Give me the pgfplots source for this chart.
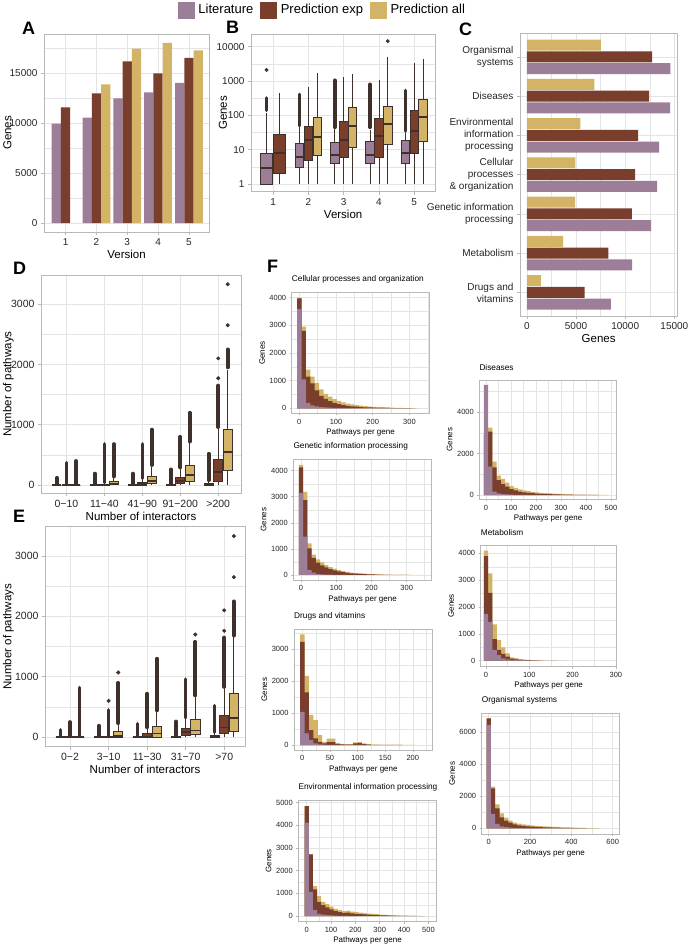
\documentclass[border=0pt]{standalone}
\usepackage{fontspec}
\setmainfont{Liberation Sans}
\usepackage{pgfplots}
\pgfplotsset{compat=1.18}

\definecolor{cLit}{HTML}{9C7E99}
\definecolor{cExp}{HTML}{7A3E2D}
\definecolor{cAll}{HTML}{D3B466}
\definecolor{dk}{HTML}{3E302B}
\definecolor{grd}{HTML}{E4E4E4}
\definecolor{bord}{HTML}{B8B8B8}

\pgfplotsset{
  gg/.style={
    scale only axis, anchor=north west,
    axis line style={draw=bord, line width=0.6pt},
    grid=both,
    major grid style={draw=grd, line width=0.6pt},
    minor grid style={draw=grd, line width=0.35pt},
    tick style={draw=bord, line width=0.6pt},
    tick align=outside, major tick length=3pt, minor tick length=0pt,
    tick pos=left, scaled ticks=false,
    tick label style={font=\fontsize{10}{12}\selectfont, text=black!85},
    label style={font=\fontsize{11.5}{13}\selectfont},
    xlabel style={inner sep=1pt}, ylabel style={inner sep=1pt},
    /pgf/number format/assume math mode=true,
    /pgf/number format/1000 sep={},
  },
  ylab/.style={ylabel style={at={(axis description cs:#1,0.5)}, anchor=center, font=\fontsize{11.5}{13}\selectfont}},
  fh/.style={gg,
    tick label style={font=\fontsize{7.5}{9}\selectfont},
    label style={font=\fontsize{8}{9}\selectfont},
    major tick length=2pt,
    title style={at={(0,1)}, anchor=south west, font=\fontsize{8.3}{10}\selectfont, inner sep=0pt, yshift=3pt},
    xlabel={Pathways per gene}, ylabel={Genes},
  },
}

% box: centre, half width, fill, lower whisker, q1, median, q3, upper whisker
\newcommand\bx[8]{%
  \pgfmathsetmacro\xa{#1-#2}\pgfmathsetmacro\xb{#1+#2}%
  \edef\tmp{%
    \noexpand\addplot[draw=dk, line width=0.8pt] coordinates {(#1,#4)(#1,#8)};
    \noexpand\addplot[draw=dk, fill=#3, line width=0.8pt] coordinates {(\xa,#5)(\xb,#5)(\xb,#7)(\xa,#7)} -- cycle;
    \noexpand\addplot[draw=dk, line width=1.8pt] coordinates {(\xa,#6)(\xb,#6)};
  }\tmp}
% dense run of outliers
\newcommand\oc[3]{\addplot[draw=dk, line width=3.6pt, line cap=round] coordinates {(#1,#2)(#1,#3)};}
% single outlier
\newcommand\od[2]{\addplot[only marks, mark=*, mark size=1.8pt, dk] coordinates {(#1,#2)};}

\begin{document}
\begin{tikzpicture}
\fill[white] (0pt,0pt) rectangle (692pt,-944pt);
\useasboundingbox (0pt,0pt) rectangle (692pt,-944pt);

% ---------------- A
\begin{axis}[gg, at={(44pt,-34pt)}, width=165pt, height=198pt,
  xmin=0.3, xmax=5.65, ymin=-900, ymax=18900,
  xtick={1,2,3,4,5}, ytick={0,5000,10000,15000}, minor ytick={2500,7500,12500,17500},
  xlabel={Version}, ylabel={Genes}, ylab=-0.222,
  ybar, bar width=0.3,
  legend columns=3,
  legend style={at={(1.682,1.121)}, anchor=center, draw=none, fill=none,
    font=\fontsize{13}{15}\selectfont, nodes={inner sep=0pt},
    /tikz/every odd column/.append style={column sep=4pt},
    /tikz/every even column/.append style={column sep=7pt}},
]
\addplot[fill=cLit, draw=none, bar shift=-0.3, forget plot] coordinates {(1,9930) (2,10530) (3,12470) (4,13050) (5,14000)};
\addplot[fill=cExp, draw=none, bar shift=0, forget plot] coordinates {(1,11550) (2,12950) (3,16150) (4,14950) (5,16500)};
\addplot[fill=cAll, draw=none, bar shift=0.3, forget plot] coordinates {(2,13870) (3,17430) (4,18000) (5,17270)};
\addlegendimage{legend image code/.code={\fill[cLit] (0pt,-8pt) rectangle (16pt,8pt);}}
\addlegendentry{Literature}
\addlegendimage{legend image code/.code={\fill[cExp] (0pt,-8pt) rectangle (16pt,8pt);}}
\addlegendentry{Prediction exp}
\addlegendimage{legend image code/.code={\fill[cAll] (0pt,-8pt) rectangle (16pt,8pt);}}
\addlegendentry{Prediction all}
\end{axis}

% ---------------- B
\begin{axis}[gg, at={(251pt,-34.3pt)}, width=184.3pt, height=157.4pt,
  ymode=log, xmin=0.37, xmax=5.6, ymin=0.6, ymax=22900,
  xtick={1,2,3,4,5}, ytick={1,10,100,1000,10000}, yticklabels={1,10,100,1000,10000},
  minor ytick={3.1623,31.623,316.23,3162.3},
  xlabel={Version}, ylabel={Genes}, ylab=-0.152,
]
\bx{0.8125}{0.17}{cLit}{1}{1}{3}{7.8}{120} \oc{0.8125}{140}{320} \od{0.8125}{2100}
\bx{1.1875}{0.17}{cExp}{1}{2}{8}{28}{460}
\bx{1.75}{0.12}{cLit}{1}{3}{6}{15}{45} \oc{1.75}{50}{410}
\bx{2}{0.12}{cExp}{1}{5}{19}{47}{680}
\bx{2.25}{0.12}{cAll}{1}{7}{24}{90}{1750}
\bx{2.75}{0.12}{cLit}{1}{4}{7}{16}{40} \oc{2.75}{45}{1050}
\bx{3}{0.12}{cExp}{1}{6}{19}{65}{1300}
\bx{3.25}{0.12}{cAll}{1}{12}{49}{165}{1550}
\bx{3.75}{0.12}{cLit}{1}{4}{7}{17}{38} \oc{3.75}{45}{800}
\bx{4}{0.12}{cExp}{1}{6}{25}{82}{1100}
\bx{4.25}{0.12}{cAll}{1}{14}{57}{185}{5100} \od{4.25}{14500}
\bx{4.75}{0.12}{cLit}{1}{4}{8}{19}{30} \oc{4.75}{35}{530}
\bx{5}{0.12}{cExp}{1}{8}{36}{140}{3300}
\bx{5.25}{0.12}{cAll}{1}{18}{88}{290}{4400}
\end{axis}

% ---------------- C
\begin{axis}[gg, at={(520pt,-33.3pt)}, width=157.3pt, height=282.7pt,
  xmin=-700, xmax=15300, ymin=0.4, ymax=7.6,
  xtick={0,5000,10000,15000}, minor xtick={2500,7500,12500},
  ytick={1,2,3,4,5,6,7},
  yticklabels={{Drugs and\\vitamins}, Metabolism, {Genetic information\\processing},
    {Cellular\\processes\\\& organization}, {Environmental\\information\\processing},
    Diseases, {Organismal\\systems}},
  yticklabel style={align=right},
  xlabel={Genes},
  xbar, bar width=0.28,
]
\addplot[fill=cLit, draw=none, bar shift=-0.3] coordinates {(8550,1) (10710,2) (12640,3) (13240,4) (13450,5) (14560,6) (14600,7)};
\addplot[fill=cExp, draw=none, bar shift=0] coordinates {(5880,1) (8280,2) (10680,3) (11010,4) (11320,5) (12430,6) (12740,7)};
\addplot[fill=cAll, draw=none, bar shift=0.3] coordinates {(1420,1) (3680,2) (4900,3) (4930,4) (5440,5) (6860,6) (7530,7)};
\end{axis}

% ---------------- D
\begin{axis}[gg, at={(41pt,-275pt)}, width=200pt, height=218.3pt,
  xmin=0.33, xmax=5.6, ymin=-138, ymax=3483,
  xtick={1,2,3,4,5}, xticklabels={0−10, 11−40, 41−90, 91−200, >200},
  ytick={0,1000,2000,3000}, minor ytick={500,1500,2500},
  tick label style={font=\fontsize{10.5}{12}\selectfont},
  xlabel={Number of interactors}, ylabel={Number of pathways}, ylab=-0.163,
]
\bx{0.75}{0.12}{cLit}{0}{0}{0}{0}{0} \oc{0.75}{15}{120}
\bx{1}{0.12}{cExp}{0}{0}{0}{0}{0} \oc{1}{15}{370}
\bx{1.25}{0.12}{cAll}{0}{0}{0}{0}{0} \oc{1.25}{15}{400}
\bx{1.75}{0.12}{cLit}{0}{0}{0}{0}{0} \oc{1.75}{15}{190}
\bx{2}{0.12}{cExp}{0}{0}{3}{15}{35} \oc{2}{40}{680}
\bx{2.25}{0.12}{cAll}{0}{5}{20}{55}{130} \oc{2.25}{140}{680}
\bx{2.75}{0.12}{cLit}{0}{0}{0}{0}{0} \oc{2.75}{15}{190}
\bx{3}{0.12}{cExp}{0}{0}{10}{40}{100} \oc{3}{110}{680}
\bx{3.25}{0.12}{cAll}{0}{20}{60}{140}{320} \oc{3.25}{330}{920}
\bx{3.75}{0.12}{cLit}{0}{0}{0}{5}{12} \oc{3.75}{15}{260}
\bx{4}{0.12}{cExp}{0}{30}{70}{130}{280} \oc{4}{290}{800}
\bx{4.25}{0.12}{cAll}{0}{60}{170}{320}{700} \oc{4.25}{720}{1200}
\bx{4.75}{0.12}{cLit}{0}{0}{5}{30}{70} \oc{4.75}{80}{520}
\bx{5}{0.12}{cExp}{0}{60}{220}{430}{950} \oc{5}{960}{1650} \od{5}{1770} \od{5}{2100}
\bx{5.25}{0.12}{cAll}{0}{250}{550}{920}{1900} \oc{5.25}{1950}{2250} \od{5.25}{2650} \od{5.25}{3330}
\end{axis}

% ---------------- E
\begin{axis}[gg, at={(45pt,-526.7pt)}, width=200pt, height=220pt,
  xmin=0.35, xmax=5.54, ymin=-160, ymax=3486,
  xtick={1,2,3,4,5}, xticklabels={0−2, 3−10, 11−30, 31−70, >70},
  ytick={0,1000,2000,3000}, minor ytick={500,1500,2500},
  tick label style={font=\fontsize{10.5}{12}\selectfont},
  xlabel={Number of interactors}, ylabel={Number of pathways}, ylab=-0.183,
]
\bx{0.75}{0.12}{cLit}{0}{0}{0}{0}{0} \oc{0.75}{15}{120}
\bx{1}{0.12}{cExp}{0}{0}{0}{0}{0} \oc{1}{15}{250}
\bx{1.25}{0.12}{cAll}{0}{0}{0}{0}{0} \oc{1.25}{15}{820}
\bx{1.75}{0.12}{cLit}{0}{0}{0}{0}{0} \oc{1.75}{15}{190}
\bx{2}{0.12}{cExp}{0}{0}{0}{0}{0} \oc{2}{15}{450} \od{2}{600}
\bx{2.25}{0.12}{cAll}{0}{0}{20}{90}{220} \oc{2.25}{230}{900} \od{2.25}{1070}
\bx{2.75}{0.12}{cLit}{0}{0}{0}{0}{0} \oc{2.75}{15}{220}
\bx{3}{0.12}{cExp}{0}{0}{10}{60}{150} \oc{3}{160}{720}
\bx{3.25}{0.12}{cAll}{0}{0}{60}{180}{430} \oc{3.25}{440}{1300}
\bx{3.75}{0.12}{cLit}{0}{0}{0}{0}{0} \oc{3.75}{15}{260}
\bx{4}{0.12}{cExp}{0}{30}{80}{140}{300} \oc{4}{320}{960}
\bx{4.25}{0.12}{cAll}{0}{40}{110}{290}{680} \oc{4.25}{690}{1580} \od{4.25}{1700}
\bx{4.75}{0.12}{cLit}{0}{0}{5}{30}{70} \oc{4.75}{80}{520}
\bx{5}{0.12}{cExp}{0}{60}{160}{360}{820} \oc{5}{830}{1650} \od{5}{1760} \od{5}{2100}
\bx{5.25}{0.12}{cAll}{0}{100}{320}{730}{1650} \oc{5.25}{1680}{2250} \od{5.25}{2650} \od{5.25}{3330}
\end{axis}

% ---------------- F: Cellular processes and organization
\begin{axis}[fh, at={(291.7pt,-292.7pt)}, width=137.6pt, height=120.6pt,
  title={Cellular processes and organization},
  xmin=-20.7, xmax=354, ymin=-181, ymax=4181,
  xtick={0,100,200,300}, minor xtick={50,150,250,350},
  ytick={0,1000,2000,3000,4000}, minor ytick={500,1500,2500,3500},
]
\addplot[fill=cAll, draw=none, const plot] coordinates {(-6,4000)(6,2950)(18,1400)(30,1150)(42,920)(54,680)(66,520)(78,420)(90,330)(102,260)(114,210)(126,170)(138,140)(150,115)(162,95)(174,80)(186,65)(198,55)(210,45)(222,38)(234,30)(246,24)(258,18)(270,13)(282,9)(294,6)(306,3)(318,1)(330,0)} \closedcycle;
\addplot[fill=cExp, draw=none, const plot] coordinates {(-6,3980)(6,2800)(18,1150)(30,900)(42,650)(54,450)(66,340)(78,260)(90,200)(102,150)(114,118)(126,92)(138,72)(150,58)(162,46)(174,37)(186,30)(198,24)(210,19)(222,15)(234,11)(246,8)(258,6)(270,4)(282,3)(294,2)(306,1)(318,0)} \closedcycle;
\addplot[fill=cLit, draw=none, const plot] coordinates {(-6,3600)(6,1050)(18,200)(30,110)(42,70)(54,45)(66,30)(78,20)(90,13)(102,9)(114,6)(126,4)(138,3)(150,2)(162,1)(174,0)} \closedcycle;
\end{axis}

% ---------------- F: Genetic information processing
\begin{axis}[fh, at={(293.3pt,-459.3pt)}, width=138.4pt, height=120.7pt,
  title={Genetic information processing},
  xmin=-21.9, xmax=371, ymin=-192, ymax=4437,
  xtick={0,100,200,300}, minor xtick={50,150,250,350},
  ytick={0,1000,2000,3000,4000}, minor ytick={500,1500,2500,3500},
]
\addplot[fill=cAll, draw=none, const plot] coordinates {(-6,4220)(6,3190)(18,1210)(30,780)(42,600)(54,480)(66,380)(78,300)(90,240)(102,190)(114,150)(126,120)(138,95)(150,75)(162,60)(174,48)(186,38)(198,30)(210,24)(222,18)(234,14)(246,10)(258,7)(270,5)(282,3)(294,2)(306,1)(318,0)} \closedcycle;
\addplot[fill=cExp, draw=none, const plot] coordinates {(-6,4130)(6,2870)(18,1020)(30,660)(42,470)(54,370)(66,290)(78,230)(90,180)(102,140)(114,110)(126,85)(138,65)(150,50)(162,40)(174,32)(186,25)(198,20)(210,15)(222,11)(234,8)(246,6)(258,4)(270,3)(282,2)(294,1)(306,0)} \closedcycle;
\addplot[fill=cLit, draw=none, const plot] coordinates {(-6,3150)(6,1470)(18,190)(30,90)(42,45)(54,25)(66,15)(78,10)(90,6)(102,4)(114,2)(126,1)(138,0)} \closedcycle;
\end{axis}

% ---------------- F: Drugs and vitamins
\begin{axis}[fh, at={(294pt,-629.3pt)}, width=138.7pt, height=120.7pt,
  title={Drugs and vitamins},
  xmin=-15, xmax=236, ymin=-156, ymax=3625,
  xtick={0,50,100,150,200}, minor xtick={25,75,125,175,225},
  ytick={0,1000,2000,3000}, minor ytick={500,1500,2500,3500},
]
\addplot[fill=cAll, draw=none, const plot] coordinates {(-4,3470)(4,2170)(12,940)(20,780)(28,310)(36,100)(44,200)(52,200)(60,70)(68,40)(76,30)(84,30)(92,80)(100,90)(108,50)(116,25)(124,15)(132,10)(140,8)(148,6)(156,5)(164,4)(172,3)(180,2)(188,2)(196,1)(204,0)} \closedcycle;
\addplot[fill=cExp, draw=none, const plot] coordinates {(-4,3230)(4,1650)(12,470)(20,210)(28,100)(36,50)(44,90)(52,90)(60,30)(68,20)(76,15)(84,15)(92,55)(100,60)(108,30)(116,15)(124,8)(132,5)(140,4)(148,3)(156,2)(164,1)(172,1)(180,0)} \closedcycle;
\addplot[fill=cLit, draw=none, const plot] coordinates {(-4,1040)(4,365)(12,156)(20,50)(28,20)(36,10)(44,8)(52,8)(60,4)(68,3)(76,2)(84,2)(92,5)(100,5)(108,2)(116,1)(124,0)} \closedcycle;
\end{axis}

% ---------------- F: Environmental information processing
\begin{axis}[fh, at={(298.3pt,-800pt)}, width=138.4pt, height=121.7pt,
  title={Environmental information processing},
  xmin=-34.6, xmax=534, ymin=-250, ymax=5117,
  xtick={0,100,200,300,400,500}, minor xtick={50,150,250,350,450},
  ytick={0,1000,2000,3000,4000,5000}, minor ytick={500,1500,2500,3500,4500},
]
\addplot[fill=cAll, draw=none, const plot] coordinates {(-8.5,4850)(8.5,2720)(25.5,1320)(42.5,880)(59.5,630)(76.5,530)(93.5,410)(110.5,320)(127.5,265)(144.5,215)(161.5,235)(178.5,200)(195.5,170)(212.5,150)(229.5,130)(246.5,110)(263.5,95)(280.5,80)(297.5,66)(314.5,54)(331.5,44)(348.5,35)(365.5,28)(382.5,21)(399.5,15)(416.5,10)(433.5,7)(450.5,4)(467.5,2)(484.5,1)(501.5,0)} \closedcycle;
\addplot[fill=cExp, draw=none, const plot] coordinates {(-8.5,4850)(8.5,2720)(25.5,1180)(42.5,630)(59.5,485)(76.5,380)(93.5,290)(110.5,220)(127.5,175)(144.5,140)(161.5,150)(178.5,120)(195.5,100)(212.5,85)(229.5,70)(246.5,58)(263.5,48)(280.5,39)(297.5,31)(314.5,25)(331.5,19)(348.5,15)(365.5,11)(382.5,8)(399.5,6)(416.5,4)(433.5,3)(450.5,2)(467.5,1)(484.5,0)} \closedcycle;
\addplot[fill=cLit, draw=none, const plot] coordinates {(-8.5,4120)(8.5,1070)(25.5,260)(42.5,100)(59.5,60)(76.5,40)(93.5,25)(110.5,15)(127.5,10)(144.5,6)(161.5,4)(178.5,2)(195.5,1)(212.5,0)} \closedcycle;
\end{axis}

% ---------------- F: Diseases
\begin{axis}[fh, at={(479.3pt,-380pt)}, width=137.4pt, height=119.3pt,
  title={Diseases},
  xmin=-26.8, xmax=523, ymin=-208, ymax=5560,
  xtick={0,100,200,300,400,500}, minor xtick={50,150,250,350,450},
  ytick={0,2000,4000}, minor ytick={1000,3000,5000},
]
\addplot[fill=cAll, draw=none, const plot] coordinates {(-8.5,3000)(8.5,3260)(25.5,1610)(42.5,935)(59.5,775)(76.5,600)(93.5,435)(110.5,340)(127.5,275)(144.5,225)(161.5,185)(178.5,150)(195.5,125)(212.5,105)(229.5,88)(246.5,74)(263.5,62)(280.5,52)(297.5,43)(314.5,35)(331.5,28)(348.5,22)(365.5,17)(382.5,13)(399.5,9)(416.5,6)(433.5,4)(450.5,2)(467.5,1)(484.5,0)} \closedcycle;
\addplot[fill=cExp, draw=none, const plot] coordinates {(-8.5,2900)(8.5,3060)(25.5,1340)(42.5,725)(59.5,530)(76.5,400)(93.5,290)(110.5,225)(127.5,160)(144.5,130)(161.5,105)(178.5,85)(195.5,70)(212.5,58)(229.5,48)(246.5,40)(263.5,33)(280.5,27)(297.5,22)(314.5,17)(331.5,13)(348.5,10)(365.5,7)(382.5,5)(399.5,3)(416.5,2)(433.5,1)(450.5,0)} \closedcycle;
\addplot[fill=cLit, draw=none, const plot] coordinates {(-8.5,5320)(8.5,1370)(25.5,160)(42.5,80)(59.5,45)(76.5,25)(93.5,15)(110.5,10)(127.5,6)(144.5,4)(161.5,2)(178.5,1)(195.5,0)} \closedcycle;
\end{axis}

% ---------------- F: Metabolism
\begin{axis}[fh, at={(480.7pt,-545pt)}, width=136pt, height=121.7pt,
  title={Metabolism},
  xmin=-12.2, xmax=302, ymin=-224, ymax=4310,
  xtick={0,100,200,300}, minor xtick={50,150,250},
  ytick={0,1000,2000,3000,4000}, minor ytick={500,1500,2500,3500},
]
\addplot[fill=cAll, draw=none, const plot] coordinates {(-5,4100)(5,3250)(15,1350)(25,770)(35,500)(45,270)(55,125)(65,100)(75,60)(85,40)(95,30)(105,20)(115,15)(125,10)(135,7)(145,5)(155,3)(165,2)(175,1)(185,0)} \closedcycle;
\addplot[fill=cExp, draw=none, const plot] coordinates {(-5,3900)(5,2530)(15,800)(25,400)(35,250)(45,150)(55,75)(65,50)(75,35)(85,25)(95,18)(105,12)(115,8)(125,5)(135,3)(145,2)(155,1)(165,0)} \closedcycle;
\addplot[fill=cLit, draw=none, const plot] coordinates {(-5,1740)(5,1450)(15,400)(25,210)(35,90)(45,50)(55,30)(65,20)(75,12)(85,8)(95,5)(105,3)(115,2)(125,1)(135,0)} \closedcycle;
\end{axis}

% ---------------- F: Organismal systems
\begin{axis}[fh, at={(481.7pt,-713.3pt)}, width=137.6pt, height=120.7pt,
  title={Organismal systems},
  xmin=-34, xmax=632, ymin=-356, ymax=7187,
  xtick={0,200,400,600}, minor xtick={100,300,500},
  ytick={0,2000,4000,6000}, minor ytick={1000,3000,5000,7000},
]
\addplot[fill=cAll, draw=none, const plot] coordinates {(-10.5,6875)(10.5,2600)(31.5,1500)(52.5,940)(73.5,670)(94.5,480)(115.5,350)(136.5,290)(157.5,250)(178.5,210)(199.5,180)(220.5,160)(241.5,140)(262.5,120)(283.5,100)(304.5,85)(325.5,72)(346.5,62)(367.5,55)(388.5,48)(409.5,40)(430.5,30)(451.5,20)(472.5,12)(493.5,6)(514.5,2)(535.5,0)} \closedcycle;
\addplot[fill=cExp, draw=none, const plot] coordinates {(-10.5,6875)(10.5,2500)(31.5,1250)(52.5,690)(73.5,480)(94.5,350)(115.5,250)(136.5,190)(157.5,145)(178.5,125)(199.5,105)(220.5,90)(241.5,78)(262.5,66)(283.5,55)(304.5,46)(325.5,38)(346.5,32)(367.5,27)(388.5,22)(409.5,16)(430.5,11)(451.5,7)(472.5,4)(493.5,2)(514.5,1)(535.5,0)} \closedcycle;
\addplot[fill=cLit, draw=none, const plot] coordinates {(-10.5,6460)(10.5,900)(31.5,270)(52.5,120)(73.5,70)(94.5,45)(115.5,30)(136.5,20)(157.5,14)(178.5,10)(199.5,7)(220.5,5)(241.5,3)(262.5,2)(283.5,1)(304.5,0)} \closedcycle;
\end{axis}

% panel letters
\begin{scope}[every node/.style={anchor=base west, inner sep=0pt, font=\bfseries\fontsize{18}{18}\selectfont}]
\node at (22pt,-35pt) {A};
\node at (226pt,-34pt) {B};
\node at (459pt,-36pt) {C};
\node at (13pt,-274pt) {D};
\node at (13pt,-522pt) {E};
\node at (267pt,-272pt) {F};
\end{scope}
\end{tikzpicture}
\end{document}
